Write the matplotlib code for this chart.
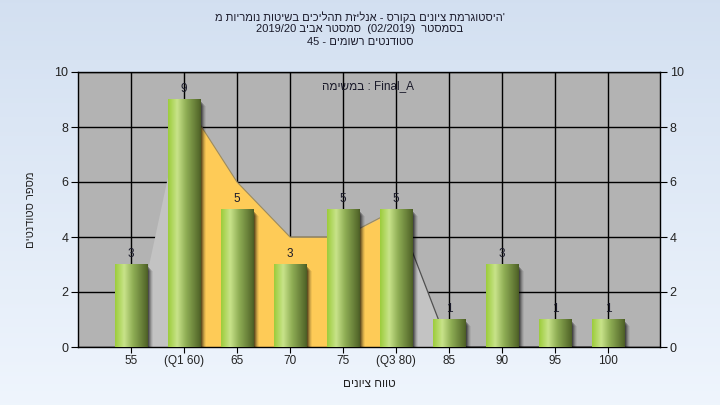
import numpy as np
import matplotlib
matplotlib.use("Agg")
import matplotlib.pyplot as plt
from matplotlib.patches import Rectangle

plt.rcParams['font.family'] = ['Liberation Sans', 'DejaVu Sans']

# ---- data ----
categories = ["55", "(Q1 60)", "65", "70", "75", "(Q3 80)", "85", "90", "95", "100"]
counts = [3, 9, 5, 3, 5, 5, 1, 3, 1, 1]
area_vals = [0, 9, 6, 4, 4, 5, 0, 0, 0, 0]
q1_idx, q3_idx = 1, 5
y_ticks = [0, 2, 4, 6, 8, 10]

# Hebrew strings written in visual (left-to-right display) order
title_lines = [
    "מ תוירמונ תוטישב םיכילהת תזילנא - סרוקב םינויצ תמרגוטסיה'",
    "2019/20 ביבא רטסמס  (02/2019)  רטסמסב",
    "45 - םימושר םיטנדוטס",
]
task_label = "המישמב : Final_A"
x_label = "םינויצ חווט"
y_label = "םיטנדוטס רפסמ"

W, H = 720, 405
fig = plt.figure(figsize=(W / 100, H / 100), dpi=100)

# background gradient
bg = fig.add_axes([0, 0, 1, 1], zorder=-10)
top = np.array([0.827, 0.878, 0.945])
bot = np.array([0.937, 0.961, 0.992])
t = np.linspace(0, 1, 256)[:, None]
grad = top[None, :] * (1 - t) + bot[None, :] * t
bg.imshow(grad[:, None, :].repeat(2, axis=1), aspect='auto', extent=[0, 1, 0, 1])
bg.set_axis_off()

ax = fig.add_axes([78 / W, (H - 347) / H, 582 / W, 275 / H])
ax.set_facecolor('#b3b3b3')
x = np.arange(len(categories))

# grid
ax.set_xticks(x)
ax.set_xticklabels(categories, fontsize=8.5, color='#222222')
ax.set_yticks(y_ticks)
ax.grid(True, color='black', linewidth=1.0, zorder=0)
ax.set_axisbelow(True)

# area series
xa = x.astype(float)
ya = np.array(area_vals, dtype=float)
ax.fill_between(xa, ya, 0, color='#c3c3c3', linewidth=0, zorder=1)
sel = slice(q1_idx, q3_idx + 1)
ax.fill_between(xa[sel], ya[sel], 0, color='#fecb57', linewidth=0, zorder=1.2)
ax.plot(xa[sel], ya[sel], color='#9a8a60', linewidth=0.8, zorder=1.3)
ax.plot(xa[q3_idx:], ya[q3_idx:], color='#505050', linewidth=0.9, zorder=1.3)

# bars with gradient and shadow
bw = 0.62
bars = ax.bar(x, counts, width=bw, color='none', zorder=3)
stops = [(0.0, '#9ccc3a'), (0.28, '#c8e38a'), (0.55, '#8fae55'), (0.95, '#55692b'), (1.0, '#4a5c25')]
pos = np.array([s[0] for s in stops])
cols = np.array([matplotlib.colors.to_rgb(s[1]) for s in stops])
u = np.linspace(0, 1, 200)
gimg = np.stack([np.interp(u, pos, cols[:, k]) for k in range(3)], axis=-1)[None, :, :]
dx_px = 0.02
for b in bars:
    bx, bwid, bh = b.get_x(), b.get_width(), b.get_height()
    for i, a in enumerate([0.28, 0.22, 0.16, 0.1, 0.06]):
        ax.add_patch(Rectangle((bx + 0.03 + i * dx_px, 0), bwid, bh - 0.1 - i * 0.03,
                               facecolor='black', alpha=a, linewidth=0, zorder=2))
    ax.imshow(gimg, extent=[bx, bx + bwid, 0, bh], aspect='auto', zorder=3.5,
              interpolation='bilinear')
    ax.text(bx + bwid / 2, bh + 0.15, f"{int(bh)}", ha='center', va='bottom',
            fontsize=8.5, color='#1a1a2a', zorder=5)
ax.set_xlim(-1, len(categories) - 0.02)
ax.set_ylim(0, 10)

# axes styling
for s in ax.spines.values():
    s.set_color('black')
    s.set_linewidth(1.0)
ax.tick_params(axis='x', length=4, color='black', pad=2)
ax.tick_params(axis='y', length=5, color='black', labelsize=9, labelcolor='#222222', pad=2)
ax2 = ax.twinx()
ax2.set_ylim(0, 10)
ax2.set_yticks(y_ticks)
ax2.tick_params(axis='y', length=5, color='black', labelsize=9, labelcolor='#222222', pad=2)
for s in ax2.spines.values():
    s.set_visible(False)

ax.text(0.498, 0.95, task_label, transform=ax.transAxes, ha='center', va='center',
        fontsize=8.5, color='#1a1a2a', zorder=6)

ax.set_xlabel(x_label, fontsize=8.5, color='#222222', labelpad=8)
ax.set_ylabel(y_label, fontsize=8, color='#222222', labelpad=13)

for i, line in enumerate(title_lines):
    fig.text(360 / W, 1 - (17 + 12.5 * i) / H, line, ha='center', va='center',
             fontsize=8, color='#1a1a2a')

fig.savefig('out.png', dpi=100)
